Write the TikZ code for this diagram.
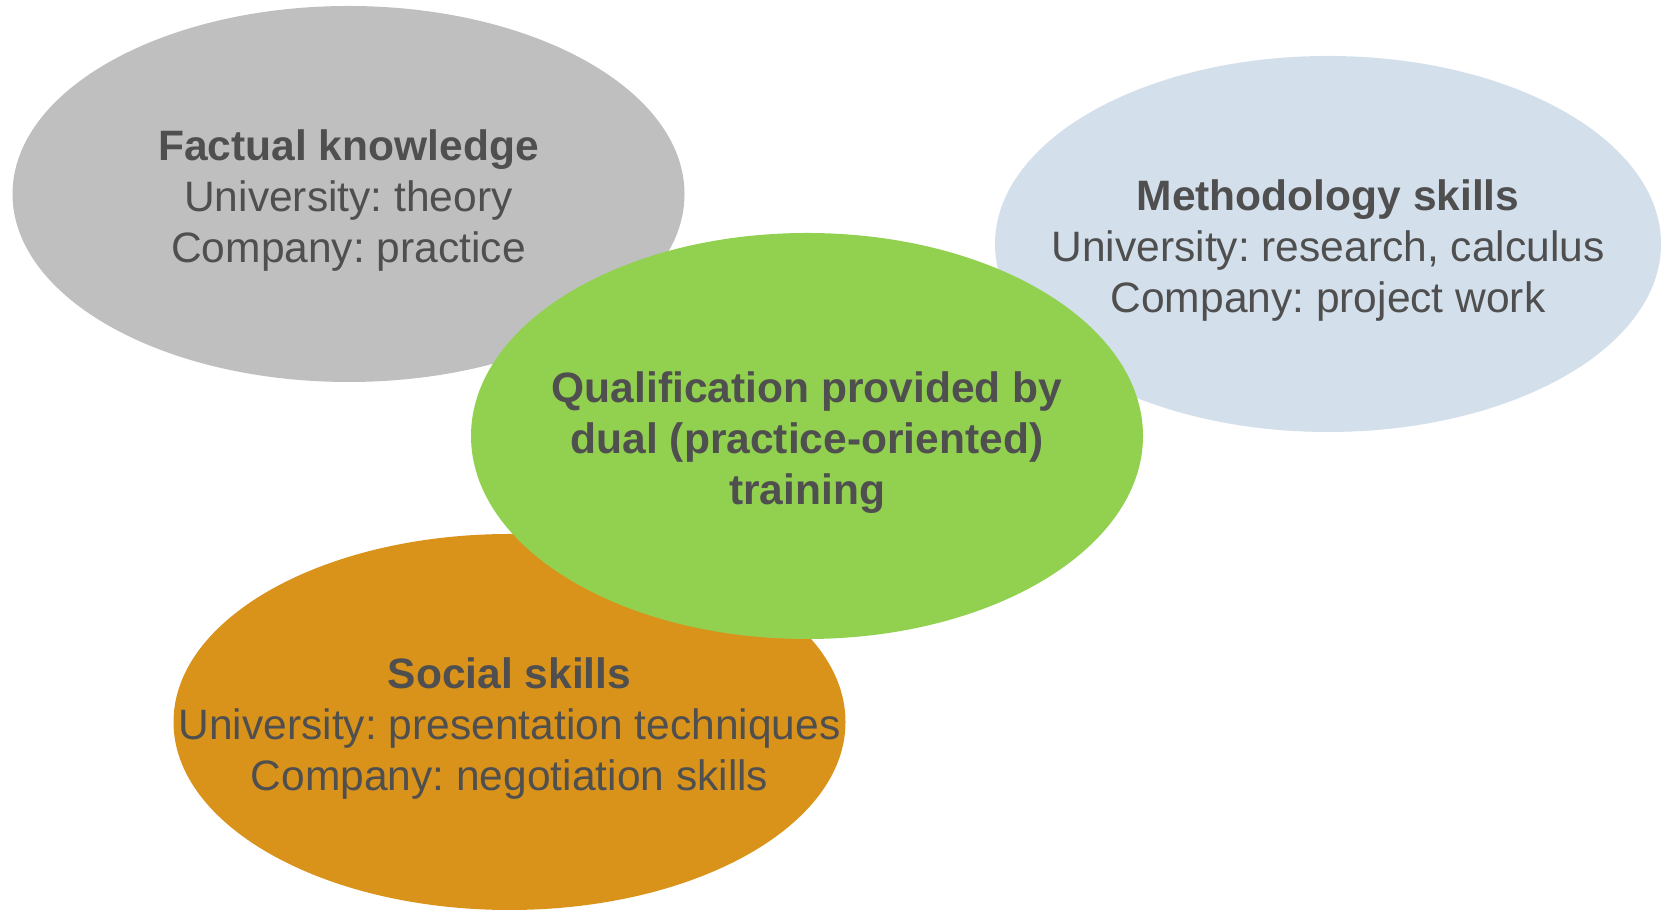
\documentclass[tikz,border=0pt]{standalone}
\usepackage{fontspec}
\setmainfont{Liberation Sans}
\usepackage{tikz}
\usetikzlibrary{shapes.geometric}
\frenchspacing

\definecolor{factgray}{HTML}{BFBFBF}
\definecolor{methblue}{HTML}{D3DFEB}
\definecolor{qualgreen}{HTML}{92D050}
\definecolor{socorange}{HTML}{DA931A}
\definecolor{textgray}{HTML}{4F4F4F}

\begin{document}
\begin{tikzpicture}
		[blob/.style={ellipse, draw=none, inner sep=0pt, minimum width=6.72cm, minimum height=3.76cm},
		 caption/.style={align=center, text=textgray, inner sep=0pt, yshift=-0.065cm, font=\fontsize{12.1}{14.5}\selectfont}]
		\useasboundingbox (0,0) rectangle (16.61,9.10);

		\node[blob, fill=factgray] (fact) at (3.485,7.16) {};
		\node[blob, fill=methblue, minimum width=6.66cm] (meth) at (13.28,6.66) {};
		\node[blob, fill=socorange] (soc) at (5.095,1.88) {};
		\node[blob, fill=qualgreen, minimum height=4.06cm] (qual) at (8.07,4.74) {};

		\node[caption] (factText) at (fact) {\textbf{Factual knowledge}\\University: theory\\Company: practice};
		\node[caption] (methText) at (meth) {\textbf{Methodology skills}\\University: research, calculus\\Company: project work};
		\node[caption] (socText) at (soc) {\textbf{Social skills}\\University: presentation techniques\\Company: negotiation skills};
		\node[caption, font=\fontsize{12.1}{14.5}\selectfont\bfseries] (qualText) at (qual) {Qualification provided by\\dual (practice-oriented)\\training};
	\end{tikzpicture}
\end{document}
